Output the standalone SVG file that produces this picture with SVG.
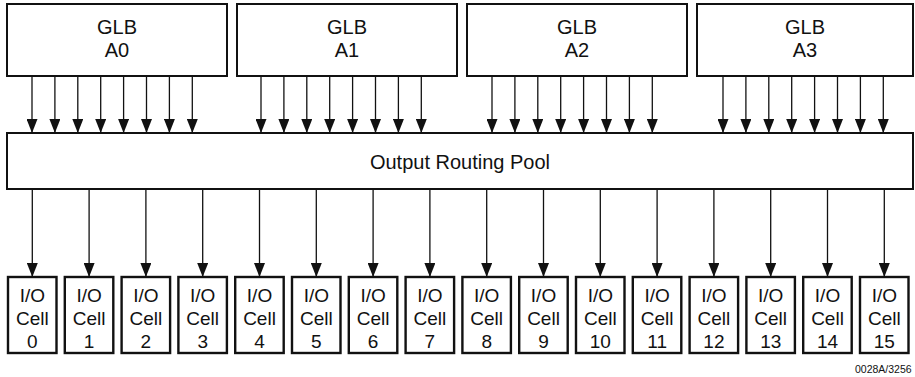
<svg xmlns="http://www.w3.org/2000/svg" width="915" height="377" viewBox="0 0 915 377">
<style>
.box{fill:#fff;stroke:#111;stroke-width:2}
.cell{fill:#fff;stroke:#111;stroke-width:2.4}
.t{font-family:"Liberation Sans",Arial,sans-serif;font-size:20px;fill:#111;text-anchor:middle}
.ct{font-family:"Liberation Sans",Arial,sans-serif;font-size:19px;fill:#111;text-anchor:middle}
.c line{stroke:#111;stroke-width:1.3;marker-end:url(#ah)}
.note{font-family:"Liberation Sans",Arial,sans-serif;font-size:10.5px;fill:#111}
</style>
<defs>
<marker id="ah" markerUnits="userSpaceOnUse" markerWidth="14" markerHeight="11" refX="14" refY="5.5" orient="auto">
<path d="M0,0 L14,5.5 L0,11 z" fill="#111"/>
</marker>
</defs>
<rect width="915" height="377" fill="#fff"/>
<g id="glb-a0"><rect class="box" x="7" y="4" width="220" height="72"/><text class="t" x="117" y="34">GLB</text><text class="t" x="117" y="57">A0</text></g>
<g id="glb-a1"><rect class="box" x="237" y="4" width="220" height="72"/><text class="t" x="347" y="34">GLB</text><text class="t" x="347" y="57">A1</text></g>
<g id="glb-a2"><rect class="box" x="467" y="4" width="220" height="72"/><text class="t" x="577" y="34">GLB</text><text class="t" x="577" y="57">A2</text></g>
<g id="glb-a3"><rect class="box" x="697" y="4" width="216" height="72"/><text class="t" x="805" y="34">GLB</text><text class="t" x="805" y="57">A3</text></g>
<g id="pool"><rect class="box" x="7" y="133" width="906" height="56"/><text class="t" x="460" y="169">Output Routing Pool</text></g>
<g id="cell-0"><rect class="cell" x="8" y="277" width="48.5" height="76"/><text class="ct" x="32.3" y="302">I/O</text><text class="ct" x="32.3" y="325">Cell</text><text class="ct" x="32.3" y="348">0</text></g>
<g id="cell-1"><rect class="cell" x="64.8" y="277" width="48.5" height="76"/><text class="ct" x="89.1" y="302">I/O</text><text class="ct" x="89.1" y="325">Cell</text><text class="ct" x="89.1" y="348">1</text></g>
<g id="cell-2"><rect class="cell" x="121.6" y="277" width="48.5" height="76"/><text class="ct" x="145.9" y="302">I/O</text><text class="ct" x="145.9" y="325">Cell</text><text class="ct" x="145.9" y="348">2</text></g>
<g id="cell-3"><rect class="cell" x="178.4" y="277" width="48.5" height="76"/><text class="ct" x="202.7" y="302">I/O</text><text class="ct" x="202.7" y="325">Cell</text><text class="ct" x="202.7" y="348">3</text></g>
<g id="cell-4"><rect class="cell" x="235.2" y="277" width="48.5" height="76"/><text class="ct" x="259.5" y="302">I/O</text><text class="ct" x="259.5" y="325">Cell</text><text class="ct" x="259.5" y="348">4</text></g>
<g id="cell-5"><rect class="cell" x="292" y="277" width="48.5" height="76"/><text class="ct" x="316.3" y="302">I/O</text><text class="ct" x="316.3" y="325">Cell</text><text class="ct" x="316.3" y="348">5</text></g>
<g id="cell-6"><rect class="cell" x="348.8" y="277" width="48.5" height="76"/><text class="ct" x="373.1" y="302">I/O</text><text class="ct" x="373.1" y="325">Cell</text><text class="ct" x="373.1" y="348">6</text></g>
<g id="cell-7"><rect class="cell" x="405.6" y="277" width="48.5" height="76"/><text class="ct" x="429.9" y="302">I/O</text><text class="ct" x="429.9" y="325">Cell</text><text class="ct" x="429.9" y="348">7</text></g>
<g id="cell-8"><rect class="cell" x="462.4" y="277" width="48.5" height="76"/><text class="ct" x="486.7" y="302">I/O</text><text class="ct" x="486.7" y="325">Cell</text><text class="ct" x="486.7" y="348">8</text></g>
<g id="cell-9"><rect class="cell" x="519.2" y="277" width="48.5" height="76"/><text class="ct" x="543.5" y="302">I/O</text><text class="ct" x="543.5" y="325">Cell</text><text class="ct" x="543.5" y="348">9</text></g>
<g id="cell-10"><rect class="cell" x="576" y="277" width="48.5" height="76"/><text class="ct" x="600.3" y="302">I/O</text><text class="ct" x="600.3" y="325">Cell</text><text class="ct" x="600.3" y="348">10</text></g>
<g id="cell-11"><rect class="cell" x="632.8" y="277" width="48.5" height="76"/><text class="ct" x="657.1" y="302">I/O</text><text class="ct" x="657.1" y="325">Cell</text><text class="ct" x="657.1" y="348">11</text></g>
<g id="cell-12"><rect class="cell" x="689.6" y="277" width="48.5" height="76"/><text class="ct" x="713.9" y="302">I/O</text><text class="ct" x="713.9" y="325">Cell</text><text class="ct" x="713.9" y="348">12</text></g>
<g id="cell-13"><rect class="cell" x="746.4" y="277" width="48.5" height="76"/><text class="ct" x="770.7" y="302">I/O</text><text class="ct" x="770.7" y="325">Cell</text><text class="ct" x="770.7" y="348">13</text></g>
<g id="cell-14"><rect class="cell" x="803.2" y="277" width="48.5" height="76"/><text class="ct" x="827.5" y="302">I/O</text><text class="ct" x="827.5" y="325">Cell</text><text class="ct" x="827.5" y="348">14</text></g>
<g id="cell-15"><rect class="cell" x="860" y="277" width="48.5" height="76"/><text class="ct" x="884.3" y="302">I/O</text><text class="ct" x="884.3" y="325">Cell</text><text class="ct" x="884.3" y="348">15</text></g>
<g id="connectors" class="c">
<line x1="32" y1="77" x2="32" y2="133"/><line x1="54.9" y1="77" x2="54.9" y2="133"/><line x1="77.8" y1="77" x2="77.8" y2="133"/><line x1="100.7" y1="77" x2="100.7" y2="133"/><line x1="123.6" y1="77" x2="123.6" y2="133"/><line x1="146.5" y1="77" x2="146.5" y2="133"/><line x1="169.4" y1="77" x2="169.4" y2="133"/><line x1="192.3" y1="77" x2="192.3" y2="133"/>
<line x1="261" y1="77" x2="261" y2="133"/><line x1="283.9" y1="77" x2="283.9" y2="133"/><line x1="306.8" y1="77" x2="306.8" y2="133"/><line x1="329.7" y1="77" x2="329.7" y2="133"/><line x1="352.6" y1="77" x2="352.6" y2="133"/><line x1="375.5" y1="77" x2="375.5" y2="133"/><line x1="398.4" y1="77" x2="398.4" y2="133"/><line x1="421.3" y1="77" x2="421.3" y2="133"/>
<line x1="492" y1="77" x2="492" y2="133"/><line x1="514.9" y1="77" x2="514.9" y2="133"/><line x1="537.8" y1="77" x2="537.8" y2="133"/><line x1="560.7" y1="77" x2="560.7" y2="133"/><line x1="583.6" y1="77" x2="583.6" y2="133"/><line x1="606.5" y1="77" x2="606.5" y2="133"/><line x1="629.4" y1="77" x2="629.4" y2="133"/><line x1="652.3" y1="77" x2="652.3" y2="133"/>
<line x1="723" y1="77" x2="723" y2="133"/><line x1="745.9" y1="77" x2="745.9" y2="133"/><line x1="768.8" y1="77" x2="768.8" y2="133"/><line x1="791.7" y1="77" x2="791.7" y2="133"/><line x1="814.6" y1="77" x2="814.6" y2="133"/><line x1="837.5" y1="77" x2="837.5" y2="133"/><line x1="860.4" y1="77" x2="860.4" y2="133"/><line x1="883.3" y1="77" x2="883.3" y2="133"/>
<line x1="32.3" y1="190" x2="32.3" y2="277"/><line x1="89.1" y1="190" x2="89.1" y2="277"/><line x1="145.9" y1="190" x2="145.9" y2="277"/><line x1="202.7" y1="190" x2="202.7" y2="277"/><line x1="259.5" y1="190" x2="259.5" y2="277"/><line x1="316.3" y1="190" x2="316.3" y2="277"/><line x1="373.1" y1="190" x2="373.1" y2="277"/><line x1="429.9" y1="190" x2="429.9" y2="277"/>
<line x1="486.7" y1="190" x2="486.7" y2="277"/><line x1="543.5" y1="190" x2="543.5" y2="277"/><line x1="600.3" y1="190" x2="600.3" y2="277"/><line x1="657.1" y1="190" x2="657.1" y2="277"/><line x1="713.9" y1="190" x2="713.9" y2="277"/><line x1="770.7" y1="190" x2="770.7" y2="277"/><line x1="827.5" y1="190" x2="827.5" y2="277"/><line x1="884.3" y1="190" x2="884.3" y2="277"/>
</g>
<text class="note" x="855" y="373">0028A/3256</text>
</svg>
